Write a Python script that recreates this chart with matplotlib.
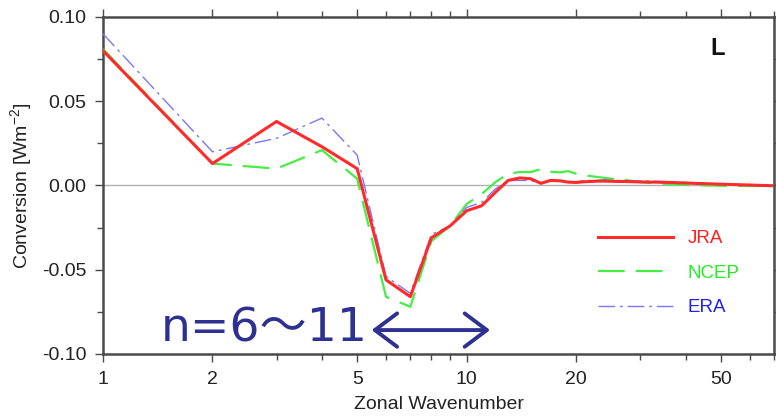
import matplotlib
matplotlib.use("Agg")
import matplotlib.pyplot as plt
from matplotlib.ticker import FixedLocator, NullFormatter, FixedFormatter

# ---------------- data ----------------
wavenumber = list(range(1, 70))

jra = [0.080, 0.013, 0.038, 0.023, 0.010, -0.056, -0.066, -0.031, -0.024, -0.015,
       -0.012, -0.004, 0.003, 0.0045, 0.004, 0.0013, 0.003, 0.0028, 0.002, 0.0018,
       0.0022, 0.0024, 0.0026, 0.0026, 0.0025, 0.0024, 0.0024, 0.0023, 0.0022, 0.0021,
       0.0021, 0.002, 0.002, 0.0019, 0.0019, 0.0018, 0.0018, 0.0016, 0.0016, 0.0015,
       0.0014, 0.0013, 0.0012, 0.0012, 0.0011, 0.001, 0.001, 0.0009, 0.0008, 0.0008,
       0.0007, 0.0007, 0.0006, 0.0006, 0.0005, 0.0005, 0.0004, 0.0004, 0.0003, 0.0003,
       0.0002, 0.0002, 0.0001, 0.0001, 0.0, 0.0, 0.0, -0.0001, -0.0001]

ncep = [0.081, 0.013, 0.010, 0.021, 0.004, -0.066, -0.072, -0.033, -0.024, -0.011,
        -0.005, 0.002, 0.007, 0.008, 0.008, 0.0097, 0.0082, 0.0078, 0.0085, 0.007,
        0.0062, 0.0055, 0.005, 0.0045, 0.004, 0.0037, 0.0035, 0.003, 0.0025, 0.002,
        0.0017, 0.0015, 0.0013, 0.001, 0.001, 0.0008, 0.0006, 0.0005, 0.0004, 0.0003,
        0.0003, 0.0002, 0.0002, 0.0001, 0.0001, 0.0, 0.0, 0.0, -0.0001, -0.0001,
        -0.0002, -0.0002, -0.0002, -0.0003, -0.0003, -0.0003, -0.0003, -0.0003, -0.0003, -0.0003,
        -0.0003, -0.0002, -0.0002, -0.0002, -0.0002, -0.0002, -0.0001, -0.0001, -0.0001]

era = [0.090, 0.020, 0.028, 0.040, 0.018, -0.054, -0.064, -0.029, -0.024, -0.013,
       -0.010, -0.002, 0.003, 0.003, 0.003, 0.001, 0.003, 0.003, 0.002, 0.002,
       0.003, 0.003, 0.003, 0.0035, 0.003, 0.003, 0.003, 0.0028, 0.0027, 0.0027,
       0.0026, 0.0025, 0.0025, 0.0024, 0.0023, 0.0022, 0.0021, 0.002, 0.0019, 0.0018,
       0.0017, 0.0016, 0.0015, 0.0014, 0.0013, 0.0012, 0.0011, 0.001, 0.0009, 0.0008,
       0.0008, 0.0007, 0.0007, 0.0006, 0.0006, 0.0005, 0.0005, 0.0004, 0.0004, 0.0003,
       0.0003, 0.0002, 0.0002, 0.0001, 0.0001, 0.0, 0.0, 0.0, 0.0]

series_names = ["JRA", "NCEP", "ERA"]
x_major = [1, 2, 5, 10, 20, 50]
x_major_labels = ["1", "2", "5", "10", "20", "50"]
x_minor = [3, 4, 6, 7, 8, 9, 30, 40, 60, 70]
y_major = [-0.10, -0.05, 0.00, 0.05, 0.10]
y_major_labels = ["-0.10", "-0.05", "0.00", "0.05", "0.10"]
y_minor = [-0.075, -0.025, 0.025, 0.075]

# ---------------- style ----------------
plt.rcParams["font.family"] = ["Liberation Sans", "DejaVu Sans"]
plt.rcParams["mathtext.fontset"] = "custom"
plt.rcParams["mathtext.rm"] = "Liberation Sans"
plt.rcParams["mathtext.it"] = "Liberation Sans"

fig = plt.figure(figsize=(7.76, 4.19), dpi=100)
ax = fig.add_axes([103 / 776, 65 / 419, 671 / 776, 337 / 419])

ax.axhline(0, color="#b0b0b0", lw=1.0, zorder=1)

l_jra, = ax.plot(wavenumber, jra, color="#ff2a2a", lw=2.2, zorder=4)
l_ncep, = ax.plot(wavenumber, ncep, color="#44ee44", lw=1.6, dashes=(12, 5), zorder=3)
l_era, = ax.plot(wavenumber, era, color="#7777ff", lw=1.0, dashes=(12, 3.5, 2, 3.5), zorder=3)

ax.set_xscale("log")
ax.set_xlim(1, 70)
ax.set_ylim(-0.10, 0.10)

ax.xaxis.set_major_locator(FixedLocator(x_major))
ax.xaxis.set_major_formatter(FixedFormatter(x_major_labels))
ax.xaxis.set_minor_locator(FixedLocator(x_minor))
ax.xaxis.set_minor_formatter(NullFormatter())
ax.yaxis.set_major_locator(FixedLocator(y_major))
ax.yaxis.set_major_formatter(FixedFormatter(y_major_labels))
ax.yaxis.set_minor_locator(FixedLocator(y_minor))

frame_col = "#4a4a4a"
for s in ax.spines.values():
    s.set_color(frame_col)
    s.set_linewidth(1.8)

ax.tick_params(which="both", direction="out", top=True, right=True, color=frame_col, width=1.0)
ax.tick_params(which="major", length=6, labelsize=14, pad=6, labelcolor="#222222")
ax.tick_params(which="minor", length=4)

ax.set_xlabel("Zonal Wavenumber", fontsize=14, labelpad=6, color="#222222")
ax.set_ylabel("Conversion [Wm$^{-2}$]", fontsize=14, labelpad=6, color="#222222")

leg = ax.legend([l_jra, l_ncep, l_era], series_names, loc="upper left",
                bbox_to_anchor=(0.737, 0.367), frameon=False, fontsize=13.5,
                handlelength=4.0, handletextpad=0.8, labelspacing=0.92,
                borderpad=0, borderaxespad=0)
for txt, c in zip(leg.get_texts(), ["#ff2020", "#22ee22", "#2222ee"]):
    txt.set_color(c)

ax.text(49, 0.0816, "L", fontsize=17, fontweight="bold", ha="center", va="center", color="#111111")

navy = "#2e3192"
ax.text(1.44, -0.0927, "n=6〜11", fontsize=34, color=navy, ha="left", va="baseline",
        family=["DejaVu Sans", "Noto Sans CJK JP"], zorder=6)
ax.annotate("", xy=(11.6, -0.0858), xytext=(5.48, -0.0858),
            arrowprops=dict(arrowstyle="<->,head_length=1.6,head_width=1.2",
                            color=navy, lw=2.8, shrinkA=0, shrinkB=0, mutation_scale=10),
            zorder=6)

fig.savefig("out.png", dpi=100)
